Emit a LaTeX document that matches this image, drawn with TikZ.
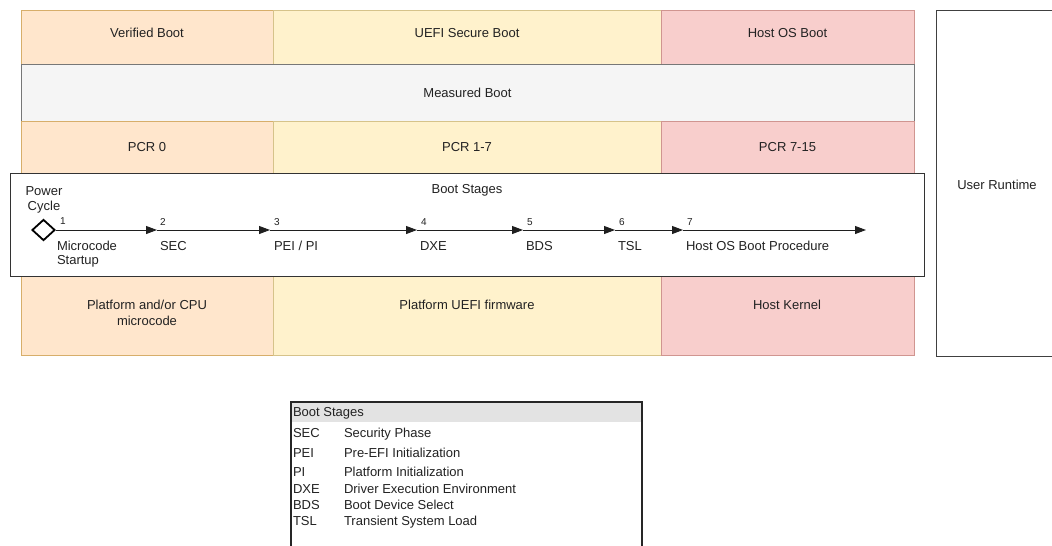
\documentclass[tikz,border=0pt]{standalone}
\usepackage{fontspec}
\setmainfont{Liberation Sans}
\usetikzlibrary{shapes.geometric,arrows.meta}

\definecolor{orFill}{HTML}{FFE6CC}
\definecolor{orLine}{HTML}{D7AE6A}
\definecolor{yeFill}{HTML}{FFF2CC}
\definecolor{yeLine}{HTML}{D6C38A}
\definecolor{rdFill}{HTML}{F8CECC}
\definecolor{rdLine}{HTML}{D09590}
\definecolor{grFill}{HTML}{F5F5F5}
\definecolor{grLine}{HTML}{777777}
\definecolor{txt}{HTML}{222222}
\definecolor{hdFill}{HTML}{E3E3E3}

\begin{document}
\begin{tikzpicture}[x=1pt,y=-1pt,
  cell/.style={draw, anchor=north west, inner sep=0pt, outer sep=0pt,
    line width=0.8pt, align=center, text=txt,
    font=\fontsize{13}{16}\selectfont},
  orcell/.style={cell, fill=orFill, draw=orLine},
  yecell/.style={cell, fill=yeFill, draw=yeLine},
  rdcell/.style={cell, fill=rdFill, draw=rdLine},
  grcell/.style={cell, fill=grFill, draw=grLine},
  toprow/.style={minimum height=54, text depth=8pt},
  pcrrow/.style={minimum height=52},
  botrow/.style={minimum height=80},
  colA/.style={minimum width=252},
  colB/.style={minimum width=388},
  colC/.style={minimum width=253},
  lbl/.style={inner sep=0pt, outer sep=0pt, text=txt,
    font=\fontsize{13}{16}\selectfont},
  num/.style={inner sep=0pt, outer sep=0pt, anchor=base west, text=txt,
    font=\fontsize{10}{12}\selectfont},
  stagelbl/.style={lbl, anchor=base west},
  legtxt/.style={inner sep=0pt, outer sep=0pt, anchor=base west, text=txt,
    font=\fontsize{13}{15}\selectfont},
  flow/.style={draw=black!88, line width=0.9pt,
    -{Triangle[length=11pt,width=8pt]}},
]
\useasboundingbox (0,0) rectangle (1052,546);
\fill[white] (0,0) rectangle (1052,546);

% security columns, top row
\node[orcell, colA, toprow] (vb) at (21,10)  {Verified Boot};
\node[yecell, colB, toprow] (sb) at (273,10) {UEFI Secure Boot};
\node[rdcell, colC, toprow] (hb) at (661,10) {Host OS Boot};

% measured boot band
\node[grcell, minimum width=893, minimum height=57] (mb) at (21,64) {Measured Boot};

% PCR row
\node[orcell, colA, pcrrow] (p0)  at (21,121)  {PCR 0};
\node[yecell, colB, pcrrow] (p17) at (273,121) {PCR 1-7};
\node[rdcell, colC, pcrrow] (p7)  at (661,121) {PCR 7-15};

% firmware / kernel row
\node[orcell, colA, botrow] (fw0) at (21,275)  {};
\node[yecell, colB, botrow] (fw1) at (273,275) {};
\node[rdcell, colC, botrow] (hk)  at (661,275) {};
\node[lbl, align=center] (fw0t) at (147,313) {Platform and/or CPU\\microcode};
\node[lbl] (fw1t) at (467,305) {Platform UEFI firmware};
\node[lbl] (hkt)  at (787,305) {Host Kernel};

% user runtime column (runs past the right edge)
\draw[draw=black!75, line width=1pt] (1054,10) -- (936,10) -- (936,356) -- (1054,356);
\node[lbl] (ur) at (997,185) {User Runtime};

% boot stages timeline
\node[draw=black!80, fill=white, line width=1.1pt, anchor=north west,
      minimum width=914, minimum height=103, inner sep=0pt] (bs) at (10,173) {};
\node[lbl] (bst) at (467,190) {Boot Stages};

\node[lbl, align=center, font=\fontsize{13}{15}\selectfont] (pct) at (44,200) {Power\\Cycle};
\node[draw=black, line width=1.8pt, diamond, fill=white, inner sep=0pt,
      minimum width=23, minimum height=21] (pc) at (43.5,230) {};

\coordinate (s2) at (157,230);
\coordinate (s3) at (270,230);
\coordinate (s4) at (417,230);
\coordinate (s5) at (523,230);
\coordinate (s6) at (615,230);
\coordinate (s7) at (683,230);
\coordinate (s8) at (866,230);

\draw[flow] (pc.east) -- (s2);
\draw[flow] (s2) -- (s3);
\draw[flow] (s3) -- (s4);
\draw[flow] (s4) -- (s5);
\draw[flow] (s5) -- (s6);
\draw[flow] (s6) -- (s7);
\draw[flow] (s7) -- (s8);

\node[num] (n1) at (60,224)  {1};
\node[num] (n2) at (160,225) {2};
\node[num] (n3) at (274,225) {3};
\node[num] (n4) at (421,225) {4};
\node[num] (n5) at (527,225) {5};
\node[num] (n6) at (619,225) {6};
\node[num] (n7) at (687,225) {7};

\node[stagelbl] (l1a) at (57,250) {Microcode};
\node[stagelbl] (l1b) at (57,264) {Startup};
\node[stagelbl] (l2) at (160,250) {SEC};
\node[stagelbl] (l3) at (274,250) {PEI / PI};
\node[stagelbl] (l4) at (420,250) {DXE};
\node[stagelbl] (l5) at (526,250) {BDS};
\node[stagelbl] (l6) at (618,250) {TSL};
\node[stagelbl] (l7) at (686,250) {Host OS Boot Procedure};

% legend table
\fill[hdFill] (291,402) rectangle (642,422);
\draw[draw=black!85, line width=1.5pt] (291,548) -- (291,402) -- (642,402) -- (642,548);
\node[legtxt] (lh) at (293,416.5) {Boot Stages};
\node[legtxt] (a1) at (293,437.5) {SEC};
\node[legtxt] (d1) at (344,437.5) {Security Phase};
\node[legtxt] (a2) at (293,457.5) {PEI};
\node[legtxt] (d2) at (344,457.5) {Pre-EFI Initialization};
\node[legtxt] (a3) at (293,476.5) {PI};
\node[legtxt] (d3) at (344,476.5) {Platform Initialization};
\node[legtxt] (a4) at (293,493.5) {DXE};
\node[legtxt] (d4) at (344,493.5) {Driver Execution Environment};
\node[legtxt] (a5) at (293,509.5) {BDS};
\node[legtxt] (d5) at (344,509.5) {Boot Device Select};
\node[legtxt] (a6) at (293,525.5) {TSL};
\node[legtxt] (d6) at (344,525.5) {Transient System Load};
\end{tikzpicture}
\end{document}
